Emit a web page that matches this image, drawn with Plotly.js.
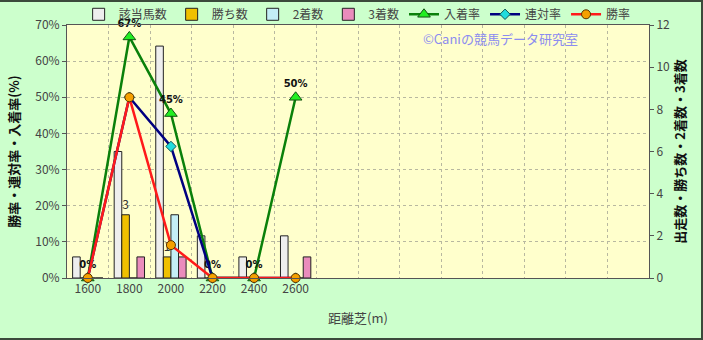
<!DOCTYPE html>
<html>
<head>
<meta charset="utf-8">
<script src="https://cdn.plot.ly/plotly-3.0.1.min.js"></script>
<style>
html,body{margin:0;padding:0;background:#ccffcc;}
#wrap{position:relative;width:703px;height:340px;}
#chart{width:703px;height:340px;}
#frame{position:absolute;left:0;top:0;width:703px;height:340px;box-sizing:border-box;border-top:2px solid #3b4a3b;border-right:2px solid #3b4a3b;border-bottom:2px solid #3b4a3b;pointer-events:none;}
</style>
</head>
<body>
<div id="wrap"><div id="chart"></div><div id="frame"></div></div>
<script>
// ---- data ----
var distances = ['1600','1800','2000','2200','2400','2600'];
var slotCount = 14; // number of category slots on the x axis
var runners = [1, 6, 11, 2, 1, 2];     // 該当馬数
var wins    = [0, 3, 1, 0, 0, 0];      // 勝ち数
var seconds = [0, 0, 3, 0, 0, 0];      // 2着数
var thirds  = [0, 1, 1, 0, 0, 1];      // 3着数
var placeRate = [0, 66.7, 45.5, 0, 0, 50];  // 入着率 (%)
var rentaiRate = [0, 50, 36.4, 0, 0, 0];    // 連対率 (%)
var winRate = [0, 50, 9.1, 0, 0, 0];        // 勝率 (%)
var placeLabels = ['0%','67%','45%','0%','0%','50%'];
var winLabels = ['','3','1','','',''];

var xs = distances.map(function(d,i){return i;});
var boundaries = [];
for (var k = 0; k < slotCount; k++) boundaries.push(k + 0.5);

var jp = '"Noto Sans CJK JP", "DejaVu Sans", sans-serif';

function barTrace(name, y, color, text){
  var t = {type:'bar', name:name, x:xs, y:y, yaxis:'y',
    marker:{color:color, line:{color:'#222', width:1}},
    hoverinfo:'skip'};
  if (text){
    t.text = text; t.textposition = 'outside'; t.constraintext = 'none';
    t.cliponaxis = false;
    t.textfont = {family: jp, size: 12, color:'#333'};
  }
  return t;
}
function lineTrace(name, y, lineColor, sym, mColor, mLine, mSize, text){
  var t = {type:'scatter', name:name, x:xs, y:y, yaxis:'y2',
    mode: text ? 'lines+markers+text' : 'lines+markers',
    line:{color:lineColor, width:2.5},
    marker:{symbol:sym, color:mColor, size:mSize, line:{color:mLine, width:1}},
    cliponaxis:false, hoverinfo:'skip'};
  if (text){
    t.text = text; t.textposition = 'top center';
    t.textfont = {family: '"DejaVu Sans", sans-serif', size: 10, color:'#111', weight:'bold'};
  }
  return t;
}

var data = [
  barTrace('該当馬数', runners, '#eeeeee'),
  barTrace('勝ち数', wins, '#f0c000', winLabels),
  barTrace('2着数', seconds, '#c4eef6'),
  barTrace('3着数', thirds, '#ea8cbc'),
  lineTrace('入着率', placeRate, '#0a800a', 'triangle-up', '#22ee22', '#115511', 11, placeLabels),
  lineTrace('連対率', rentaiRate, '#000080', 'diamond', '#22dddd', '#115555', 8),
  lineTrace('勝率', winRate, '#ff1a1a', 'circle', '#f5a000', '#553300', 9)
];

var layout = {
  width:703, height:340,
  paper_bgcolor:'#ccffcc', plot_bgcolor:'#ffffcc',
  margin:{l:67, r:54, t:25, b:62, autoexpand:false},
  font:{family: jp, size:12, color:'#444'},
  barmode:'group', bargap:0.27, bargroupgap:0,
  showlegend:true,
  legend:{orientation:'h', x:0.02, xanchor:'left', y:0.985, yanchor:'bottom',
    bgcolor:'rgba(0,0,0,0)', font:{family: jp, size:12, color:'#444'},
    traceorder:'normal', itemwidth:30},
  xaxis:{range:[-0.5, slotCount-0.5], tickmode:'array', tickvals:xs, ticktext:distances,
    showgrid:false, zeroline:false, showline:true, linecolor:'#555', linewidth:1, mirror:true,
    ticks:'', tickfont:{size:12, color:'#444'},
    minor:{tickmode:'array', tickvals:boundaries, showgrid:true, gridcolor:'#b8b8a0', griddash:'dot', gridwidth:1, ticks:''},
    title:{text:'距離芝(m)', font:{size:13, color:'#444'}, standoff:18}},
  yaxis:{range:[0,12], dtick:2, side:'right', showgrid:false, zeroline:false,
    showline:true, linecolor:'#555', linewidth:1, ticks:'outside', ticklen:4, tickcolor:'#555',
    tickfont:{size:12, color:'#444'},
    title:{text:'出走数・勝ち数・2着数・3着数', font:{size:13, color:'#111', weight:'bold'}, standoff:5}},
  yaxis2:{range:[0,70], dtick:10, ticksuffix:'%', side:'left', overlaying:'y',
    showgrid:true, gridcolor:'#b8b8a0', griddash:'dot', zeroline:false,
    showline:true, linecolor:'#555', linewidth:1, ticks:'outside', ticklen:4, tickcolor:'#555',
    tickfont:{size:12, color:'#444'},
    title:{text:'勝率・連対率・入着率(%)', font:{size:13, color:'#111', weight:'bold'}, standoff:12}},
  annotations:[{text:'©Caniの競馬データ研究室', xref:'paper', yref:'paper', x:0.745, y:0.945,
    xanchor:'center', yanchor:'middle', showarrow:false,
    font:{family: jp, size:13, color:'#8c8cf0'}}]
};

Plotly.newPlot('chart', data, layout, {displayModeBar:false, staticPlot:true});
</script>
</body>
</html>
